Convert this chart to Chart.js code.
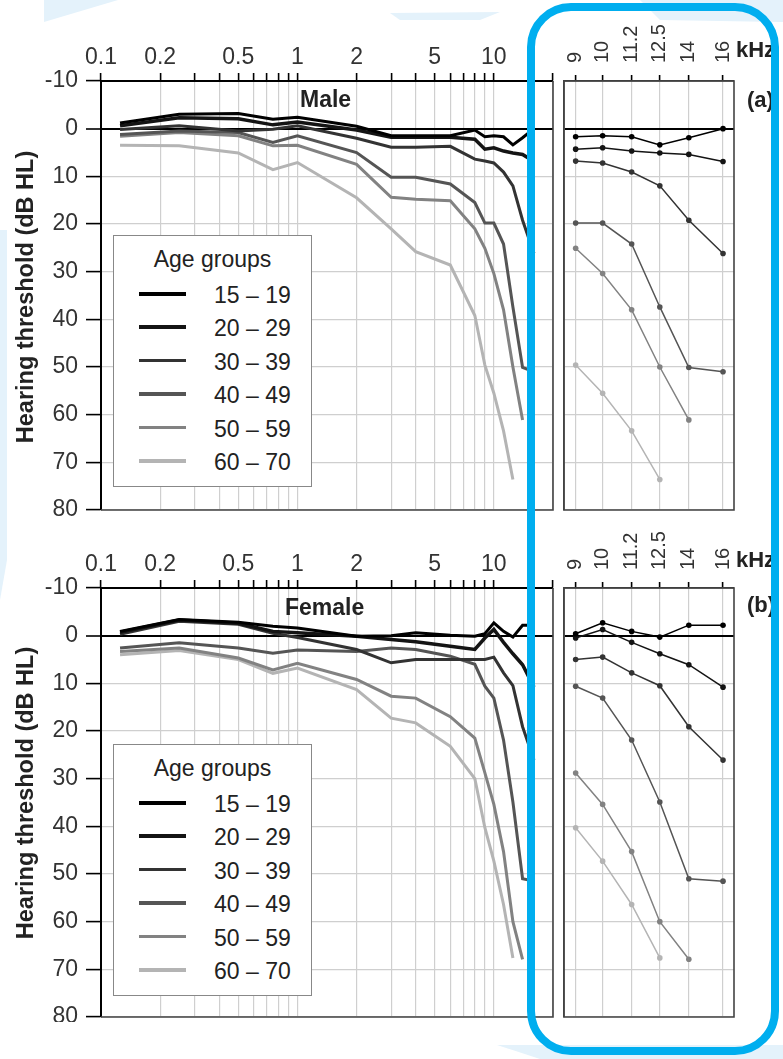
<!DOCTYPE html>
<html>
<head>
<meta charset="utf-8">
<script src="https://cdn.jsdelivr.net/npm/chart.js@4.4.1/dist/chart.umd.min.js"></script>
<style>
  body { margin: 0; width: 783px; height: 1059px; position: relative; overflow: hidden; background: #fff;
         font-family: "Liberation Sans", Arial, sans-serif; }
  canvas { position: absolute; }
  .lbl { position: absolute; font-weight: bold; color: #222; white-space: nowrap; }
  .ytitle { position: absolute; left: 25px; font-size: 23.5px; font-weight: bold; color: #222; white-space: nowrap;
            transform: translate(-50%, -50%) rotate(-90deg); }
  .legend { position: absolute; left: 113px; width: 199px; height: 252px; box-sizing: border-box;
            border: 1.5px solid #888; background: #fff; }
  .legend .ttl { position: absolute; left: 0; width: 100%; top: 10px; text-align: center; font-size: 23px; color: #222; }
  .legend .row { position: absolute; left: 0; width: 100%; height: 24px; }
  .legend .row i { position: absolute; left: 25px; width: 47px; top: 10px; }
  .legend .row span { position: absolute; left: 100px; top: 0; font-size: 23px; color: #222; }
  #frame { position: absolute; left: 527px; top: 3px; width: 252px; height: 1052px; box-sizing: border-box;
           border: 8px solid #00aeef; border-radius: 44px; }
</style>
</head>
<body>
<svg width="783" height="1059" style="position:absolute;left:0;top:0">
  <polygon points="44,0 118,0 44,22" fill="#e4f2fb"/>
  <polygon points="0,230 7,230 7,560 0,600" fill="#e4f2fb"/>
  <polygon points="390,13 500,12 480,20 400,20" fill="#e4f2fb"/>
  <polygon points="640,0 783,0 783,22 660,20" fill="#e4f2fb"/>
  <polygon points="497,1045 783,1045 783,1059 540,1059" fill="#e4f2fb"/>
</svg>

<canvas id="maleLow" width="560" height="525" style="left:0;top:0"></canvas>
<canvas id="maleHigh" width="227" height="525" style="left:556px;top:0"></canvas>
<canvas id="femaleLow" width="560" height="515" style="left:0;top:507px"></canvas>
<canvas id="femaleHigh" width="227" height="515" style="left:556px;top:507px"></canvas>

<div class="ytitle" style="top:297px">Hearing threshold (dB HL)</div>
<div class="ytitle" style="top:793px">Hearing threshold (dB HL)</div>
<div class="lbl" style="left:300px;top:86px;font-size:23px">Male</div>
<div class="lbl" style="left:285px;top:594px;font-size:23px">Female</div>
<div class="lbl" style="left:747px;top:87px;font-size:22px">(a)</div>
<div class="lbl" style="left:747px;top:592px;font-size:22px">(b)</div>
<div class="lbl" style="left:736px;top:37px;font-size:22px">kHz</div>
<div class="lbl" style="left:736px;top:547px;font-size:22px">kHz</div>

<div class="legend" id="legMale" style="top:235px"></div>
<div class="legend" id="legFemale" style="top:744px"></div>

<div id="frame"></div>

<script>
// audiometric frequencies (kHz)
const freqs = [0.125, 0.25, 0.5, 0.75, 1, 2, 3, 4, 6, 8, 9, 10, 11.2, 12.5, 14, 16];
const lowTicks = [0.1, 0.2, 0.3, 0.4, 0.5, 0.6, 0.7, 0.8, 0.9, 1, 2, 3, 4, 5, 6, 7, 8, 9, 10, 20];
const lowTickLabels = [0.1, 0.2, 0.5, 1, 2, 5, 10];
const highTicks = [9, 10, 11.2, 12.5, 14, 16];
const ageGroups = ['15 – 19', '20 – 29', '30 – 39', '40 – 49', '50 – 59', '60 – 70'];

// hearing threshold, dB HL  (Male)
const male15_19 = [-1.2, -3.0, -3.2, -2.0, -2.4, -0.5, 1.5, 1.5, 1.5, 0.3, 1.7, 1.5, 1.7, 3.4, 1.9, 0];
const male20_29 = [-0.6, -2.3, -2.1, -0.8, -1.4, 0.3, 1.8, 1.8, 1.8, 2.2, 4.3, 4.0, 4.7, 5.1, 5.4, 6.9];
const male30_39 = [0.2, -0.6, 0.5, 0.1, -0.6, 2.0, 3.9, 3.9, 3.7, 6.4, 6.8, 7.2, 9.1, 12.0, 19.2, 26.2];
const male40_49 = [1.2, 0.5, 0.8, 2.9, 1.5, 5.0, 10.2, 10.2, 11.6, 15.5, 19.8, 19.8, 24.2, 37.4, 50.1, 51.0];
const male50_59 = [1.6, 0.8, 1.5, 3.6, 3.5, 7.5, 14.4, 14.8, 15.1, 21.0, 25.1, 30.4, 38.0, 50.0, 61.1, null];
const male60_70 = [3.5, 3.6, 5.1, 8.6, 7.1, 14.5, 21.0, 25.8, 28.6, 39.2, 49.6, 55.5, 63.4, 73.6, null, null];

// hearing threshold, dB HL  (Female)
const female15_19 = [-0.9, -3.4, -2.8, -2.0, -1.6, 0.1, 0.0, -0.6, -0.1, 0.1, -0.4, -2.7, -0.9, 0.3, -2.2, -2.2];
const female20_29 = [-0.7, -3.3, -2.6, -0.9, -0.6, 0.1, 0.8, 1.3, 2.2, 2.9, 0.5, -1.3, 1.4, 3.8, 6.1, 10.8];
const female30_39 = [-0.3, -3.0, -2.4, -0.5, 0.4, 2.9, 5.7, 5.0, 5.0, 5.0, 5.0, 4.5, 7.8, 10.5, 19.1, 26.1];
const female40_49 = [2.6, 1.5, 2.6, 3.7, 3.0, 3.3, 2.6, 2.9, 4.3, 6.0, 10.6, 13.1, 21.9, 34.9, 51.0, 51.5];
const female50_59 = [3.3, 2.6, 4.7, 7.2, 5.8, 9.2, 12.7, 13.1, 17.0, 21.5, 28.8, 35.4, 45.3, 60.0, 67.9, null];
const female60_70 = [4.0, 3.1, 5.0, 7.9, 6.8, 11.3, 17.3, 18.3, 23.2, 30.0, 40.3, 47.3, 56.4, 67.6, null, null];

const male = [male15_19, male20_29, male30_39, male40_49, male50_59, male60_70];
const female = [female15_19, female20_29, female30_39, female40_49, female50_59, female60_70];

// styles
const lineColors = ['#000000', '#141414', '#333333', '#555555', '#828282', '#b4b4b4'];
const lowWidths = [3, 3.5, 3, 3, 3, 3];
const FONT = '"Liberation Sans", Arial, sans-serif';
const GRID = '#cfcfcf';

// legend boxes (html)
function buildLegend(id) {
  const box = document.getElementById(id);
  box.innerHTML = '<div class="ttl">Age groups</div>';
  ageGroups.forEach((g, i) => {
    const row = document.createElement('div');
    row.className = 'row';
    row.style.top = (46 + i * 33.4) + 'px';
    row.innerHTML = '<i style="height:' + (i === 1 ? 4 : 3.5) + 'px;background:' + lineColors[i] + '"></i><span>' + g + '</span>';
    box.appendChild(row);
  });
}
buildLegend('legMale');
buildLegend('legFemale');

// plot frame: right + bottom edges (and full box for the high-frequency plots)
const framePlugin = {
  id: 'frame',
  afterDraw(chart, args, opts) {
    const { ctx, chartArea: a } = chart;
    ctx.save();
    ctx.strokeStyle = opts.color || '#444';
    ctx.lineWidth = 1.6;
    ctx.beginPath();
    if (opts.full) {
      ctx.rect(a.left, a.top, a.right - a.left, a.bottom - a.top);
    } else {
      ctx.moveTo(a.right, a.top);
      ctx.lineTo(a.right, a.bottom);
      ctx.lineTo(a.left, a.bottom);
    }
    ctx.stroke();
    ctx.restore();
  }
};

function yScale(withLabels) {
  return {
    reverse: true, min: -10, max: 80,
    ticks: { stepSize: 10, display: withLabels, padding: 8, color: '#333', font: { size: 23, family: FONT } },
    grid: {
      color: c => c.tick && c.tick.value === 0 ? '#000' : GRID,
      lineWidth: c => c.tick && c.tick.value === 0 ? 2 : 1.2,
      drawTicks: withLabels, tickLength: 15, tickColor: '#000', tickWidth: 1.6
    },
    border: { color: withLabels ? '#000' : '#444', width: withLabels ? 2 : 1.6 },
    afterFit: s => {
      s.width = withLabels ? 101 : 0;
      s.paddingTop = 0;
      s.paddingBottom = 0;
    }
  };
}

function fitTop(s) {
  s.height = 81;
  s.paddingLeft = 0;
  s.paddingRight = 0;
}

function lowChart(id, series, padBottom) {
  return new Chart(document.getElementById(id), {
    type: 'line',
    data: {
      datasets: series.map((vals, i) => ({
        label: ageGroups[i],
        data: freqs.map((f, j) => ({ x: f, y: vals[j] })),
        borderColor: lineColors[i], borderWidth: lowWidths[i],
        pointRadius: 0, tension: 0, spanGaps: false
      }))
    },
    options: {
      responsive: false, animation: false,
      layout: { padding: { right: 7, bottom: padBottom, left: 0, top: 0 } },
      plugins: { legend: { display: false }, tooltip: { enabled: false }, frame: { color: '#444' } },
      scales: {
        x: {
          type: 'logarithmic', position: 'top', min: 0.1, max: 20,
          afterBuildTicks: s => { s.ticks = lowTicks.map(v => ({ value: v })); },
          ticks: {
            autoSkip: false, maxRotation: 0, minRotation: 0, padding: 2, color: '#333',
            font: { size: 23, family: FONT },
            callback: v => lowTickLabels.some(t => Math.abs(t - v) < 1e-9) ? String(v) : ''
          },
          grid: { color: GRID, lineWidth: 1.2, tickLength: 8, tickColor: '#000', tickWidth: 1.6 },
          border: { color: '#000', width: 2 },
          afterFit: fitTop
        },
        y: yScale(true)
      }
    },
    plugins: [framePlugin]
  });
}

function highChart(id, series, padBottom) {
  return new Chart(document.getElementById(id), {
    type: 'line',
    data: {
      datasets: series.map((vals, i) => ({
        label: ageGroups[i],
        data: freqs.map((f, j) => ({ x: f, y: vals[j] })).filter(p => p.x >= 9),
        borderColor: lineColors[i], backgroundColor: lineColors[i], borderWidth: 1.5,
        pointRadius: 2.8, pointBorderWidth: 0, tension: 0, spanGaps: false
      }))
    },
    options: {
      responsive: false, animation: false,
      layout: { padding: { left: 8, right: 49, bottom: padBottom, top: 0 } },
      plugins: { legend: { display: false }, tooltip: { enabled: false }, frame: { color: '#444', full: true } },
      scales: {
        x: {
          type: 'logarithmic', position: 'top', min: 8.6, max: 16.7,
          afterBuildTicks: s => { s.ticks = highTicks.map(v => ({ value: v })); },
          ticks: {
            autoSkip: false, maxRotation: 90, minRotation: 90, padding: 12, labelOffset: 24, color: '#333',
            font: { size: 20, family: FONT }, callback: v => String(v)
          },
          grid: { color: GRID, lineWidth: 1.2, tickLength: 6, tickColor: '#000', tickWidth: 1.6 },
          border: { color: '#333', width: 1.6 },
          afterFit: fitTop
        },
        y: yScale(false)
      }
    },
    plugins: [framePlugin]
  });
}

lowChart('maleLow', male, 15);
highChart('maleHigh', male, 15);
lowChart('femaleLow', female, 5);
highChart('femaleHigh', female, 5);
</script>
</body>
</html>
